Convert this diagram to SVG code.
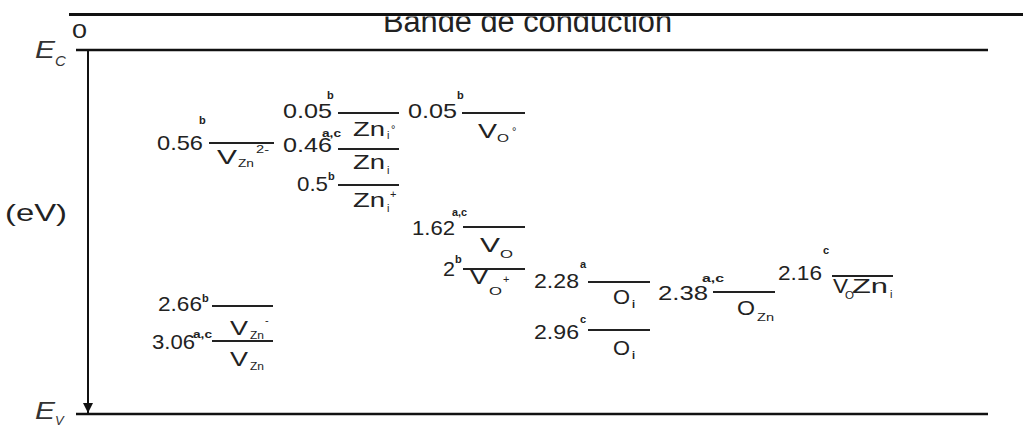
<svg xmlns="http://www.w3.org/2000/svg" width="1023" height="426" viewBox="0 0 1023 426">
<style>
text{font-family:"Liberation Sans",Arial,sans-serif;fill:#222}
.n{font-size:21px}
.m{font-size:20px}
.s{font-size:11px}
.p{font-size:11px;font-weight:bold}
.ax{font-family:"Liberation Sans",Arial,sans-serif;font-style:italic;fill:#333}
.lv{stroke:#222;stroke-width:2}
.band{stroke:#111}
</style>
<defs>
<clipPath id="cb"><rect x="0" y="16.5" width="1023" height="40"/></clipPath>
<marker id="ah" markerWidth="10" markerHeight="10" refX="10" refY="5" orient="auto" markerUnits="userSpaceOnUse" viewBox="0 0 10 10">
<path d="M0,0 L10,5 L0,10 Z" fill="#111"/>
</marker>
</defs>
<g id="bands">
<line class="band" x1="69" y1="14.5" x2="1023" y2="14.5" stroke-width="3"/>
<text x="383" y="32" font-size="31" clip-path="url(#cb)" textLength="289" lengthAdjust="spacingAndGlyphs">Bande de conduction</text>
<line class="band" x1="76" y1="50" x2="988" y2="50" stroke-width="2.5"/>
<line class="band" x1="76" y1="414" x2="988" y2="414" stroke-width="2.5"/>
<text x="72" y="38" font-size="21" textLength="15" lengthAdjust="spacingAndGlyphs">0</text>
<text class="ax" x="35" y="58" font-size="24" textLength="20" lengthAdjust="spacingAndGlyphs">E</text>
<text class="ax" x="55" y="66" font-size="15">C</text>
<text class="ax" x="35" y="419" font-size="24" textLength="20" lengthAdjust="spacingAndGlyphs">E</text>
<text class="ax" x="55" y="425" font-size="13">V</text>
<text x="5" y="221" font-size="24" textLength="62" lengthAdjust="spacingAndGlyphs">(eV)</text>
</g>
<g id="connectors">
<line x1="88" y1="50" x2="88" y2="413" stroke="#111" stroke-width="2" marker-end="url(#ah)"/>
</g>
<g id="vzn2m">
<text class="n" x="157" y="150" textLength="46" lengthAdjust="spacingAndGlyphs">0.56</text>
<text class="p" x="199" y="124">b</text>
<line class="lv" x1="209" y1="143" x2="274" y2="143"/>
<text class="m" x="217" y="164" textLength="20" lengthAdjust="spacingAndGlyphs">V</text>
<text class="s" x="238" y="167" textLength="16" lengthAdjust="spacingAndGlyphs">Zn</text>
<text class="s" x="256" y="153" textLength="13" lengthAdjust="spacingAndGlyphs">2-</text>
</g>
<g id="zni0">
<text class="n" x="283" y="118" textLength="49" lengthAdjust="spacingAndGlyphs">0.05</text>
<text class="p" x="327" y="99">b</text>
<line class="lv" x1="338" y1="113" x2="399" y2="113"/>
<text class="m" x="353" y="136" textLength="32" lengthAdjust="spacingAndGlyphs">Zn</text>
<text class="s" x="387" y="139" font-size="9">i</text>
<text class="s" x="391" y="133">°</text>
</g>
<g id="zni">
<text class="n" x="283" y="152" textLength="49" lengthAdjust="spacingAndGlyphs">0.46</text>
<text class="p" x="322" y="137" textLength="19" lengthAdjust="spacingAndGlyphs">a,c</text>
<line class="lv" x1="338" y1="149" x2="399" y2="149"/>
<text class="m" x="353" y="169" textLength="32" lengthAdjust="spacingAndGlyphs">Zn</text>
<text class="s" x="387" y="174" font-size="9">i</text>
</g>
<g id="znip">
<text class="n" x="297" y="191" textLength="31" lengthAdjust="spacingAndGlyphs">0.5</text>
<text class="p" x="328" y="180">b</text>
<line class="lv" x1="338" y1="185" x2="399" y2="185"/>
<text class="m" x="353" y="207" textLength="32" lengthAdjust="spacingAndGlyphs">Zn</text>
<text class="s" x="387" y="212" font-size="9">i</text>
<text class="s" x="390" y="198" font-size="9">+</text>
</g>
<g id="vo0">
<text class="n" x="408" y="118" textLength="49" lengthAdjust="spacingAndGlyphs">0.05</text>
<text class="p" x="457" y="99">b</text>
<line class="lv" x1="462" y1="113" x2="525" y2="113"/>
<text class="m" x="478" y="138" textLength="19" lengthAdjust="spacingAndGlyphs">V</text>
<text class="s" x="497" y="142" font-size="12" textLength="12" lengthAdjust="spacingAndGlyphs">O</text>
<text class="s" x="512" y="135">°</text>
</g>
<g id="vo">
<text class="n" x="412" y="235" textLength="43" lengthAdjust="spacingAndGlyphs">1.62</text>
<text class="p" x="452" y="216" textLength="15" lengthAdjust="spacingAndGlyphs">a,c</text>
<line class="lv" x1="463" y1="227" x2="525" y2="227"/>
<text class="m" x="480" y="252" textLength="20" lengthAdjust="spacingAndGlyphs">V</text>
<text class="s" x="500" y="258" font-size="12" textLength="13" lengthAdjust="spacingAndGlyphs">O</text>
</g>
<g id="vop">
<text class="n" x="443" y="276" textLength="12" lengthAdjust="spacingAndGlyphs">2</text>
<text class="p" x="455" y="263">b</text>
<line class="lv" x1="463" y1="269" x2="525" y2="269"/>
<text class="m" x="470" y="284" textLength="18" lengthAdjust="spacingAndGlyphs">V</text>
<text class="s" x="489" y="295" font-size="12" textLength="13" lengthAdjust="spacingAndGlyphs">O</text>
<text class="s" x="503" y="283" font-size="9">+</text>
</g>
<g id="oi1">
<text class="n" x="534" y="288" textLength="45" lengthAdjust="spacingAndGlyphs">2.28</text>
<text class="p" x="580" y="268">a</text>
<line class="lv" x1="588" y1="282" x2="650" y2="282"/>
<text class="m" x="613" y="304" textLength="17" lengthAdjust="spacingAndGlyphs">O</text>
<text class="p" x="632" y="308" font-size="9">i</text>
</g>
<g id="oi2">
<text class="n" x="534" y="339" textLength="45" lengthAdjust="spacingAndGlyphs">2.96</text>
<text class="p" x="580" y="323">c</text>
<line class="lv" x1="588" y1="330" x2="650" y2="330"/>
<text class="m" x="613" y="355" textLength="17" lengthAdjust="spacingAndGlyphs">O</text>
<text class="p" x="632" y="359" font-size="9">i</text>
</g>
<g id="ozn">
<text class="n" x="658" y="300" textLength="50" lengthAdjust="spacingAndGlyphs">2.38</text>
<text class="p" x="702" y="282" textLength="22" lengthAdjust="spacingAndGlyphs">a,c</text>
<line class="lv" x1="713" y1="292" x2="775" y2="292"/>
<text class="m" x="737" y="315" textLength="18" lengthAdjust="spacingAndGlyphs">O</text>
<text class="s" x="757" y="321" textLength="17" lengthAdjust="spacingAndGlyphs">Zn</text>
</g>
<g id="vozni">
<text class="n" x="778" y="280" textLength="44" lengthAdjust="spacingAndGlyphs">2.16</text>
<text class="p" x="823" y="254">c</text>
<line class="lv" x1="832" y1="276" x2="893" y2="276"/>
<text class="m" x="833" y="293" textLength="15" lengthAdjust="spacingAndGlyphs">V</text>
<text class="s" x="845" y="299" font-size="12" textLength="9" lengthAdjust="spacingAndGlyphs">O</text>
<text class="m" x="852" y="293" textLength="36" lengthAdjust="spacingAndGlyphs">Zn</text>
<text class="s" x="890" y="298" font-size="9">i</text>
</g>
<g id="vznm">
<text class="n" x="158" y="311" textLength="44" lengthAdjust="spacingAndGlyphs">2.66</text>
<text class="p" x="202" y="302">b</text>
<line class="lv" x1="212" y1="306" x2="273" y2="306"/>
<text class="m" x="230" y="335" textLength="18" lengthAdjust="spacingAndGlyphs">V</text>
<text class="s" x="250" y="339" textLength="14" lengthAdjust="spacingAndGlyphs">Zn</text>
<text class="s" x="265" y="324" font-size="9">-</text>
</g>
<g id="vzn">
<text class="n" x="152" y="349" textLength="43" lengthAdjust="spacingAndGlyphs">3.06</text>
<text class="p" x="193" y="338" textLength="19" lengthAdjust="spacingAndGlyphs">a,c</text>
<line class="lv" x1="212" y1="341" x2="273" y2="341"/>
<text class="m" x="230" y="366" textLength="18" lengthAdjust="spacingAndGlyphs">V</text>
<text class="s" x="250" y="370" textLength="14" lengthAdjust="spacingAndGlyphs">Zn</text>
</g>
</svg>
